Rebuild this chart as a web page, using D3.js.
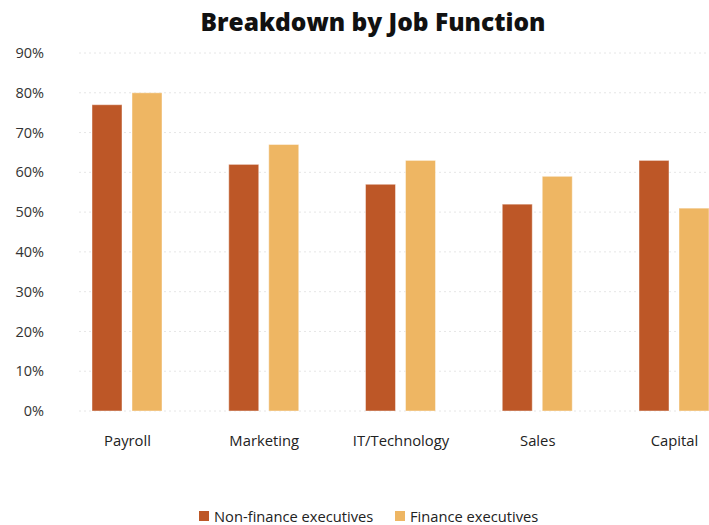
<!DOCTYPE html>
<html>
<head>
<meta charset="utf-8">
<script src="https://cdn.jsdelivr.net/npm/d3@7/dist/d3.min.js"></script>
<style>
  html, body { margin: 0; padding: 0; background: #fff; }
  svg { display: block; font-family: "Open Sans", "Lato", sans-serif; }
</style>
</head>
<body>
<svg id="chart" width="709" height="525"></svg>
<script>
const categories = ["Payroll", "Marketing", "IT/Technology", "Sales", "Capital"];
const seriesNames = ["Non-finance executives", "Finance executives"];
const nonFinance = [77, 62, 57, 52, 63];
const finance = [80, 67, 63, 59, 51];
const yTicks = [0, 10, 20, 30, 40, 50, 60, 70, 80, 90];
const colors = ["#BD5727", "#EEB663"];

const FONT = "'Open Sans', Lato, sans-serif";
const svg = d3.select("#chart");
const W = 709, H = 525;

const y = d3.scaleLinear().domain([0, 90]).range([411, 53]);
const x0 = d3.scalePoint().domain(categories).range([127, 674]);
const x1 = d3.scaleBand().domain(seriesNames).range([-35, 35]).paddingInner(0.25);
const color = d3.scaleOrdinal().domain(seriesNames).range(colors);

// Title
svg.append("text")
  .attr("x", 373).attr("y", 31)
  .attr("text-anchor", "middle")
  .attr("font-size", 24.5).attr("font-weight", 800)
  .attr("fill", "#111")
  .text("Breakdown by Job Function");

// Dotted horizontal grid
const grid = svg.append("g");
grid.selectAll("line").data(yTicks).join("line")
  .attr("x1", 79).attr("x2", W)
  .attr("y1", d => y(d)).attr("y2", d => y(d))
  .attr("stroke", "#e6e6e6").attr("stroke-width", 1)
  .attr("stroke-dasharray", "2,3");

// Y axis labels
const yAxis = d3.axisLeft(y).tickValues(yTicks).tickFormat(d => d + "%").tickSize(0).tickPadding(0);
const yg = svg.append("g").attr("transform", "translate(44,0)").call(yAxis);
yg.select(".domain").remove();
yg.selectAll("text").attr("font-size", 14.5).attr("fill", "#333").attr("font-family", FONT);

// Bars
const rows = categories.map((c, i) => ({ cat: c, vals: [nonFinance[i], finance[i]] }));
const groups = svg.append("g").selectAll("g").data(rows).join("g")
  .attr("transform", d => `translate(${x0(d.cat)},0)`);
groups.selectAll("rect")
  .data(d => d.vals.map((v, j) => ({ key: seriesNames[j], v })))
  .join("rect")
  .attr("x", d => x1(d.key))
  .attr("width", x1.bandwidth())
  .attr("y", d => y(d.v))
  .attr("height", d => y(0) - y(d.v))
  .attr("fill", d => color(d.key))
  .attr("stroke", "rgba(255,255,255,0.45)")
  .attr("stroke-width", 1);

// X axis labels
const xAxis = d3.axisBottom(x0).tickSize(0).tickPadding(0);
const xg = svg.append("g").attr("transform", "translate(0,435)").call(xAxis);
xg.select(".domain").remove();
xg.selectAll("text").attr("font-size", 14.8).attr("fill", "#222").attr("font-family", FONT);

// Legend
const legendX = [199, 395];
const legend = svg.append("g").selectAll("g").data(seriesNames).join("g")
  .attr("transform", (d, i) => `translate(${legendX[i]},511)`);
legend.append("rect").attr("width", 10).attr("height", 10).attr("fill", d => color(d));
legend.append("text").attr("x", 15).attr("y", 10.5)
  .attr("font-size", 14.7).attr("fill", "#222")
  .text(d => d);
</script>
</body>
</html>
